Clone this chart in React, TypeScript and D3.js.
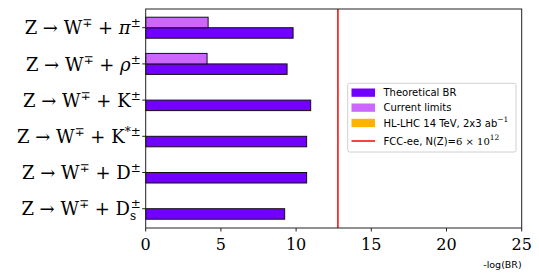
import React, { useEffect } from "react";
import * as d3 from "d3";

// channels, top to bottom
const channels = ["pi", "rho", "K", "Kstar", "D", "Ds"];
// -log10(BR)
const theoreticalBR = [9.8, 9.4, 10.97, 10.7, 10.7, 9.24];
const currentLimits = [4.15, 4.08, null, null, null, null];
const fccReach = 12.78; // -log10(1/6e12)
const xTicks = [0, 5, 10, 15, 20, 25];

const W = 539;
const H = 278;
const margin = { left: 145.7, right: 539 - 521.7, top: 9, bottom: 278 - 228 };

const serif = "DejaVu Serif";
const sans = "DejaVu Sans";

const colors = {
  theo: "#7000ff",
  limit: "#cc66ff",
  hl: "#ffb300",
  fcc: "#ff0000",
};

function ChannelLabel({ name, x, y }: { name: string; x: number; y: number }) {
  const fs = 18;
  const sup = 12;
  const up = -7;
  let tail: React.ReactNode = null;
  if (name === "pi")
    tail = (
      <>
        <tspan fontStyle="italic">π</tspan>
        <tspan fontSize={sup} dy={up}>±</tspan>
      </>
    );
  else if (name === "rho")
    tail = (
      <>
        <tspan fontStyle="italic">ρ</tspan>
        <tspan fontSize={sup} dy={up}>±</tspan>
      </>
    );
  else if (name === "K")
    tail = (
      <>
        K<tspan fontSize={sup} dy={up}>±</tspan>
      </>
    );
  else if (name === "Kstar")
    tail = (
      <>
        K<tspan fontSize={sup} dy={up}>*±</tspan>
      </>
    );
  else if (name === "D")
    tail = (
      <>
        D<tspan fontSize={sup} dy={up}>±</tspan>
      </>
    );
  else
    tail = (
      <>
        D<tspan fontSize={sup} dy={5}>s</tspan>
        <tspan fontSize={sup} dy={up - 5} dx={-5.5}>±</tspan>
      </>
    );
  return (
    <text x={x} y={y} fontFamily={serif} fontSize={fs} textAnchor="end" fill="#000">
      Z → W<tspan fontSize={sup} dy={up}>∓</tspan>
      <tspan dy={-up}> + </tspan>
      {tail}
    </text>
  );
}

export default function App() {
  useEffect(() => {
    document.body.style.margin = "0";
  }, []);

  const x = d3
    .scaleLinear()
    .domain([0, 25])
    .range([margin.left, W - margin.right]);
  const y = d3
    .scaleLinear()
    .domain([-0.517, channels.length - 1 + 0.533])
    .range([margin.top, H - margin.bottom]);
  const bw = y(0.29) - y(0);
  const spine = "#222";

  const lx = 347.7;
  const ly = 83.3;

  return (
    <svg width={W} height={H} style={{ display: "block" }}>
      <rect width={W} height={H} fill="#fff" />
      {/* bars */}
      {channels.map((c, i) => (
        <g key={c}>
          <rect
            x={x(0)}
            y={y(i)}
            width={x(theoreticalBR[i]) - x(0)}
            height={bw}
            fill={colors.theo}
            stroke="#111"
            strokeWidth={1}
          />
          {currentLimits[i] != null && (
            <rect
              x={x(0)}
              y={y(i) - bw}
              width={x(currentLimits[i] as number) - x(0)}
              height={bw}
              fill={colors.limit}
              stroke="#111"
              strokeWidth={1}
            />
          )}
        </g>
      ))}
      {/* FCC-ee line */}
      <line
        x1={x(fccReach)}
        x2={x(fccReach)}
        y1={margin.top}
        y2={H - margin.bottom}
        stroke={colors.fcc}
        strokeWidth={1.5}
      />
      {/* frame */}
      <rect
        x={margin.left}
        y={margin.top}
        width={W - margin.left - margin.right}
        height={H - margin.top - margin.bottom}
        fill="none"
        stroke={spine}
        strokeWidth={1}
      />
      {/* x axis */}
      {xTicks.map((t) => (
        <g key={t}>
          <line
            x1={x(t)}
            x2={x(t)}
            y1={H - margin.bottom}
            y2={H - margin.bottom + 3.5}
            stroke={spine}
          />
          <text
            x={x(t)}
            y={250}
            fontFamily={serif}
            fontSize={16}
            textAnchor="middle"
          >
            {t}
          </text>
        </g>
      ))}
      <text x={W - margin.right} y={268} fontFamily={sans} fontSize={9.5} textAnchor="end">
        -log(BR)
      </text>
      {/* y axis */}
      {channels.map((c, i) => (
        <g key={c}>
          <line x1={margin.left - 3.5} x2={margin.left} y1={y(i)} y2={y(i)} stroke={spine} />
          <ChannelLabel name={c} x={margin.left - 5} y={y(i) + 6.6} />
        </g>
      ))}
      {/* legend */}
      <g>
        <rect
          x={lx}
          y={ly}
          width={168.3}
          height={68.7}
          rx={2}
          fill="#fff"
          fillOpacity={0.8}
          stroke="#d0d0d0"
          strokeWidth={1}
        />
        <rect x={351.5} y={88.5} width={23.5} height={8.3} fill={colors.theo} />
        <rect x={351.5} y={103.5} width={23.5} height={8.3} fill={colors.limit} />
        <rect x={351.5} y={118.8} width={23.5} height={8.3} fill={colors.hl} />
        <line x1={351.5} x2={375} y1={141} y2={141} stroke={colors.fcc} strokeWidth={1.5} />
        <g fontFamily={sans} fontSize={10} fill="#000">
          <text x={383.5} y={96}>Theoretical BR</text>
          <text x={383.5} y={111}>Current limits</text>
          <text x={383.5} y={126.5}>
            HL-LHC 14 TeV, 2x3 ab
            <tspan fontFamily={serif} fontSize={7.5} dy={-4.5}>−1</tspan>
          </text>
          <text x={383.5} y={144.5}>
            FCC-ee, N(Z)=
            <tspan fontFamily={serif} fontSize={10}>6 × 10</tspan>
            <tspan fontFamily={serif} fontSize={7.5} dy={-4.5}>12</tspan>
          </text>
        </g>
      </g>
    </svg>
  );
}
